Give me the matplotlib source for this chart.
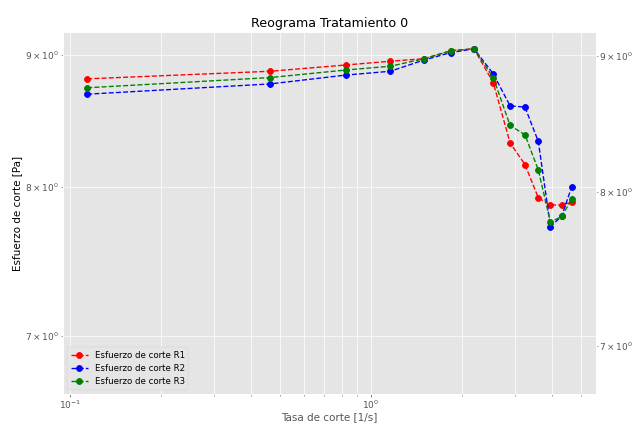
import numpy as np
import matplotlib
matplotlib.use("Agg")
import matplotlib.pyplot as plt

plt.style.use("ggplot")

# Tasa de corte [1/s]
tasa = [0.114, 0.462, 0.826, 1.16, 1.50, 1.85, 2.20, 2.55, 2.90, 3.25, 3.60, 3.95, 4.30, 4.65]
# Esfuerzo de corte [Pa]
esf_r1 = [8.81, 8.87, 8.92, 8.95, 8.97, 9.035, 9.05, 8.78, 8.32, 8.16, 7.92, 7.87, 7.87, 7.89]
esf_r2 = [8.69, 8.77, 8.84, 8.87, 8.96, 9.02, 9.05, 8.85, 8.60, 8.59, 8.33, 7.72, 7.79, 8.00]
esf_r3 = [8.74, 8.82, 8.88, 8.91, 8.97, 9.035, 9.05, 8.82, 8.45, 8.38, 8.12, 7.75, 7.79, 7.91]

series = [esf_r1, esf_r2, esf_r3]
labels = ["Esfuerzo de corte R1", "Esfuerzo de corte R2", "Esfuerzo de corte R3"]
colors = ["r", "b", "g"]

fig = plt.figure(figsize=(633 / 65, 424 / 65), dpi=65)
ax = fig.add_axes([63 / 633, 1 - 394 / 424, (596 - 63) / 633, (394 - 32) / 424])

for y, lab, c in zip(series, labels, colors):
    ax.plot(tasa, y, "o--", color=c, label=lab, markersize=6.5)

ax.set_xscale("log")
ax.set_yscale("log")
ax.set_ylim(6.646, 9.187)
ax.grid(True, which="both")
ax.tick_params(which="both", labelsize=10, pad=2)
ax.set_title("Reograma Tratamiento 0", fontsize=14)
ax.set_xlabel("Tasa de corte [1/s]", fontsize=11.5, labelpad=1)
ax.set_ylabel("Esfuerzo de corte [Pa]", color="k", fontsize=11.5)
ax.legend(loc="lower left", fontsize=9.5)

# eje secundario a la derecha
ax2 = ax.twinx()
ax2.set_yscale("log")
ax2.set_ylim(6.714, 9.19)
ax2.grid(False)
ax2.tick_params(which="both", labelsize=10, pad=1)

fig.savefig("out.png", dpi=65)
